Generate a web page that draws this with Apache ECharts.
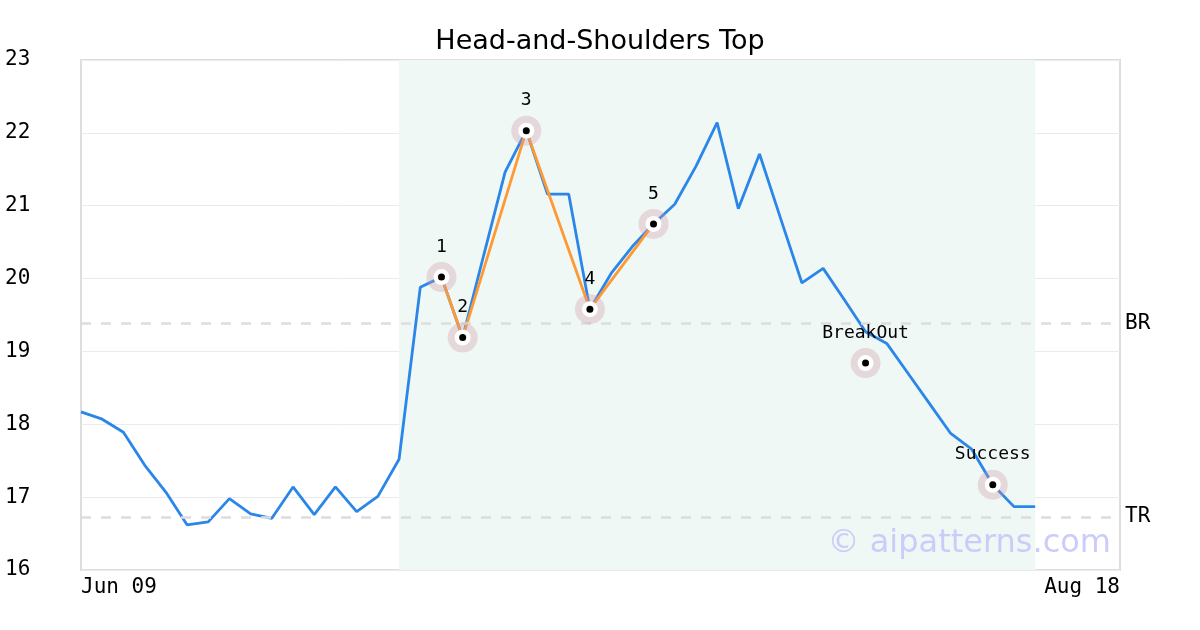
<!DOCTYPE html>
<html>
<head>
<meta charset="utf-8">
<script src="https://cdn.jsdelivr.net/npm/echarts@6/dist/echarts.min.js"></script>
<style>html,body{margin:0;padding:0;background:#fff}#c{width:1200px;height:630px}</style>
</head>
<body>
<div id="c"></div>
<script>
const categories = ["Jun 09","Jun 10","Jun 11","Jun 14","Jun 15","Jun 16","Jun 17","Jun 18","Jun 21","Jun 22","Jun 23","Jun 24","Jun 25","Jun 28","Jun 29","Jun 30","Jul 01","Jul 02","Jul 06","Jul 07","Jul 08","Jul 09","Jul 12","Jul 13","Jul 14","Jul 15","Jul 16","Jul 19","Jul 20","Jul 21","Jul 22","Jul 23","Jul 26","Jul 27","Jul 28","Jul 29","Jul 30","Aug 02","Aug 03","Aug 04","Aug 05","Aug 06","Aug 09","Aug 10","Aug 11","Aug 12","Aug 13","Aug 16","Aug 17","Aug 18"];
const priceValues = [18.17,18.07,17.89,17.44,17.07,16.62,16.66,16.98,16.77,16.71,17.14,16.76,17.14,16.80,17.01,17.52,19.88,20.02,19.19,20.33,21.46,22.03,21.16,21.16,19.58,20.07,20.44,20.75,21.02,21.54,22.14,20.96,21.71,20.82,19.94,20.14,19.71,19.27,19.11,18.70,18.29,17.88,17.66,17.17,16.87,16.87];
const patternIdx = [17,18,21,24,27];
const patternVals = [20.02,19.19,22.03,19.58,20.75];
const patternLabels = ["1","2","3","4","5"];
const eventIdx = [37,43];
const eventVals = [18.84,17.17];
const eventLabels = ["BreakOut","Success"];
const brLevel = 19.38;
const trLevel = 16.73;
const areaStart = 15, areaEnd = 45;
const yTicks = [16,17,18,19,20,21,22,23];

const mono = "DejaVu Sans Mono";
const orangeData = categories.map(() => null);
patternIdx.forEach((i, k) => orangeData[i] = patternVals[k]);
const markPts = patternIdx.map((i, k) => ({value:[i, patternVals[k]], label: patternLabels[k]}))
  .concat(eventIdx.map((i, k) => ({value:[i, eventVals[k]], label: eventLabels[k]})));

function scatterLayer(size, color, withLabel, z) {
  return {
    type: 'scatter', symbol: 'circle', symbolSize: size, z: z,
    itemStyle: {color: color, opacity: 1},
    data: markPts.map(p => ({value: p.value, name: p.label})),
    label: withLabel ? {show: true, position: 'top', distance: 6, formatter: p => p.name,
      fontFamily: mono, fontSize: 18, color: '#000'} : {show: false},
    emphasis: {disabled: true}, silent: true
  };
}

const chart = echarts.init(document.getElementById('c'), null, {renderer: 'canvas'});
chart.setOption({
  animation: false,
  title: {text: 'Head-and-Shoulders Top', left: 'center', top: 23,
    textStyle: {fontFamily: 'DejaVu Sans', fontSize: 27, fontWeight: 'normal', color: '#000'}},
  grid: {left: 81, right: 80, top: 60, bottom: 60, show: true, borderColor: '#dddddd', borderWidth: 2, backgroundColor: 'transparent'},
  xAxis: {
    type: 'category', data: categories, boundaryGap: false,
    axisLine: {show: false}, axisTick: {show: false}, splitLine: {show: false},
    axisLabel: {interval: (i) => i === 0 || i === categories.length - 1, fontFamily: mono, fontSize: 21, color: '#000', margin: 7,
      alignMinLabel: 'left', alignMaxLabel: 'right'}
  },
  yAxis: {
    type: 'value', min: yTicks[0], max: yTicks[yTicks.length-1], interval: 1,
    axisLine: {show: false}, axisTick: {show: false},
    splitLine: {show: true, lineStyle: {color: '#ebebeb', width: 1}},
    axisLabel: {fontFamily: mono, fontSize: 21, color: '#000', align: 'left', margin: 76}
  },
  graphic: [{type: 'text', right: 89, top: 528, z: 100, silent: true,
    style: {text: '© aipatterns.com', fontFamily: 'DejaVu Sans', fontSize: 32, fill: '#ccccfa'}}],
  series: [
    {
      type: 'line', data: priceValues, symbol: 'none', z: 3,
      lineStyle: {color: '#2a86e8', width: 2.8}, itemStyle: {color: '#2a86e8'},
      markArea: {silent: true, itemStyle: {color: '#f0f8f5'},
        data: [[{xAxis: areaStart}, {xAxis: areaEnd}]]},
      markLine: {silent: true, symbol: ['none','none'],
        lineStyle: {color: '#dddddd', type: [10, 10], width: 2.5},
        label: {show: true, position: 'end', distance: 5, fontFamily: mono, fontSize: 21, color: '#000', formatter: p => p.name},
        data: [{yAxis: brLevel, name: 'BR'}, {yAxis: trLevel, name: 'TR'}]}
    },
    {
      type: 'line', data: orangeData, connectNulls: true, symbol: 'none', z: 4,
      lineStyle: {color: '#ff9933', width: 2.8}
    },
    scatterLayer(30, 'rgba(205,150,165,0.32)', true, 5),
    scatterLayer(16, '#ffffff', false, 6),
    scatterLayer(7, '#000000', false, 7)
  ]
});
</script>
</body>
</html>
